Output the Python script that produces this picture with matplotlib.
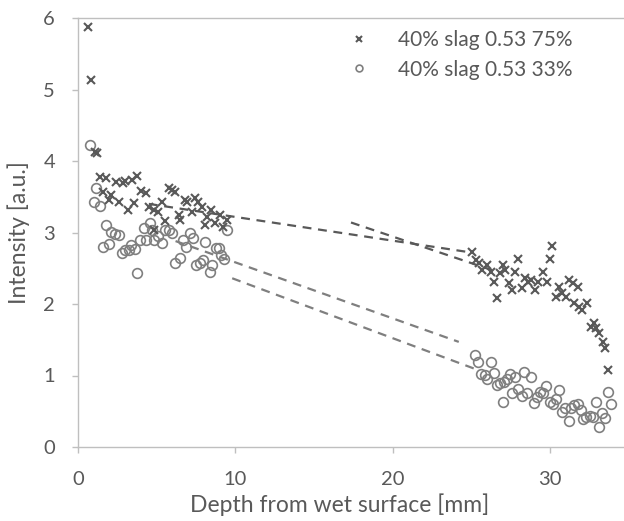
import matplotlib
matplotlib.use("Agg")
import matplotlib.pyplot as plt

plt.rcParams['font.family'] = ['Lato', 'DejaVu Sans']

# Series 1: 40% slag 0.53 75%  (x markers)
s1_x = [0.61, 0.81, 1.06, 1.21, 1.42, 1.75, 1.59, 2.11, 1.96, 2.42, 2.63, 2.84, 3.0, 3.15,
        3.46, 3.57, 3.78, 3.99, 4.3, 4.51, 4.82, 5.09, 5.34, 5.55, 4.82, 5.76, 5.97, 6.14,
        6.39, 6.49, 6.81, 6.91, 7.22, 7.43, 7.64, 7.85, 8.06, 8.22, 8.47, 8.68, 9.0, 9.2, 9.47,
        25.07, 25.28, 25.49, 25.69, 26.0, 26.22, 26.42, 26.63, 26.84, 27.0, 27.16, 27.36,
        27.57, 27.78, 27.99, 28.2, 28.41, 28.62, 28.82, 29.03, 29.24, 29.56, 29.81, 29.97,
        30.14, 30.39, 30.56, 30.77, 31.02, 31.18, 31.48, 31.75, 31.54, 31.85, 32.06, 32.37,
        32.58, 32.79, 32.94, 33.1, 33.35, 33.52, 33.69]
s1_y = [5.87, 5.13, 4.12, 4.11, 3.77, 3.76, 3.57, 3.52, 3.45, 3.71, 3.43, 3.69, 3.72, 3.31,
        3.74, 3.41, 3.79, 3.58, 3.55, 3.36, 3.32, 3.29, 3.43, 3.16, 3.03, 3.62, 3.6, 3.57,
        3.24, 3.17, 3.45, 3.43, 3.28, 3.48, 3.43, 3.35, 3.1, 3.21, 3.31, 3.13, 3.24, 3.08, 3.18,
        2.73, 2.61, 2.57, 2.48, 2.55, 2.45, 2.31, 2.08, 2.43, 2.55, 2.48, 2.29,
        2.2, 2.45, 2.63, 2.22, 2.36, 2.31, 2.34, 2.2, 2.31, 2.45, 2.31, 2.63,
        2.81, 2.1, 2.24, 2.15, 2.1, 2.34, 2.3, 2.24, 2.01, 1.96, 1.92, 2.01,
        1.68, 1.73, 1.66, 1.59, 1.47, 1.38, 1.08]

# Series 2: 40% slag 0.53 33%  (open circles)
s2_x = [0.79, 1.17, 1.0, 1.38, 1.75, 2.11, 2.32, 2.59, 1.59, 1.96, 2.8, 3.0, 3.21, 3.36,
        3.63, 3.78, 3.92, 4.2, 4.34, 4.55, 4.68, 4.82, 5.09, 5.34, 5.51, 5.76, 5.97, 6.14,
        6.49, 6.7, 6.85, 7.12, 7.33, 7.53, 7.74, 7.95, 8.1, 8.37, 8.52, 8.79, 8.93, 9.1, 9.27, 9.47,
        25.21, 25.42, 26.22, 25.63, 25.84, 26.0, 26.42, 26.63, 26.84, 27.05, 27.26, 27.43,
        27.0, 27.57, 27.78, 27.99, 28.2, 28.35, 28.55, 28.76, 28.97, 29.14, 29.35, 29.56,
        29.76, 29.97, 30.18, 30.35, 30.56, 30.77, 30.98, 31.18, 31.33, 31.54, 31.75, 31.96,
        32.1, 32.31, 32.52, 32.73, 32.9, 33.1, 33.31, 33.52, 33.69, 33.9]
s2_y = [4.22, 3.62, 3.43, 3.37, 3.1, 3.01, 2.98, 2.97, 2.8, 2.84, 2.72, 2.75, 2.75, 2.83,
        2.77, 2.44, 2.89, 3.06, 2.9, 3.13, 3.04, 2.9, 2.95, 2.86, 3.03, 3.03, 3.0, 2.57,
        2.64, 2.9, 2.8, 3.0, 2.92, 2.55, 2.57, 2.62, 2.87, 2.45, 2.55, 2.78, 2.79, 2.69, 2.63, 3.03,
        1.29, 1.19, 1.19, 1.02, 1.01, 0.95, 1.03, 0.87, 0.89, 0.91, 0.95, 1.02,
        0.63, 0.75, 0.98, 0.81, 0.71, 1.05, 0.75, 0.98, 0.61, 0.7, 0.77, 0.75,
        0.85, 0.63, 0.6, 0.67, 0.8, 0.49, 0.55, 0.37, 0.54, 0.59, 0.6, 0.52,
        0.39, 0.42, 0.43, 0.42, 0.63, 0.28, 0.47, 0.4, 0.77, 0.6]

# Dashed lines (trend-like segments)
lineA_x = [4.5, 25.0]
lineA_y = [3.40, 2.72]
lineB_x = [17.35, 26.5]
lineB_y = [3.14, 2.46]
lineC_x = [6.2, 24.2]
lineC_y = [2.88, 1.47]
lineD_x = [9.8, 25.5]
lineD_y = [2.36, 1.07]

labels = ["40% slag 0.53 75%", "40% slag 0.53 33%"]
xticks = [0, 10, 20, 30]
yticks = [0, 1, 2, 3, 4, 5, 6]

dark = '#595959'
mid = '#7f7f7f'
axc = '#bfbfbf'

fig = plt.figure(figsize=(6.24, 5.21), dpi=100)
ax = fig.add_axes([78/624, 74/521, 546/624, 429/521])

lw = 1.6
for lx, ly, c in [(lineA_x, lineA_y, dark), (lineB_x, lineB_y, dark),
                  (lineC_x, lineC_y, mid), (lineD_x, lineD_y, mid)]:
    ax.plot(lx, ly, color=c, lw=lw, dashes=(4, 3), zorder=1, solid_capstyle='butt')

h1, = ax.plot(s1_x, s1_y, linestyle='none', marker='x', markersize=5.8, mew=1.5,
              color=dark, label=labels[0], zorder=3)
h2, = ax.plot(s2_x, s2_y, linestyle='none', marker='o', markersize=7, mew=1.2,
              markerfacecolor='none', markeredgecolor=mid, label=labels[1], zorder=2)

ax.set_xlim(0, 34.7)
ax.set_ylim(0, 6)
ax.set_xticks(xticks)
ax.set_yticks(yticks)

for s in ['left', 'bottom', 'top']:
    ax.spines[s].set_color(axc)
    ax.spines[s].set_linewidth(1.0)
ax.spines['right'].set_visible(False)

ax.tick_params(axis='both', direction='out', length=4.5, width=1.0, color=axc,
               labelcolor=dark, labelsize=14.5)
ax.tick_params(axis='y', pad=12)
ax.tick_params(axis='x', pad=13)

ax.set_xlabel("Depth from wet surface [mm]", fontsize=16.5, color=dark)
ax.set_ylabel("Intensity [a.u.]", fontsize=16.5, color=dark)
ax.xaxis.set_label_coords(0.48, -0.108)
ax.yaxis.set_label_coords(-0.088, 0.5)

leg = fig.legend(handles=[h1, h2], loc='upper left', bbox_to_anchor=(338/624, 1 - 22/521),
                 frameon=False, fontsize=15, markerscale=0.7, handlelength=1.2,
                 handletextpad=1.3, labelspacing=0.45, borderaxespad=0)
for t in leg.get_texts():
    t.set_color(dark)

fig.savefig('out.png', dpi=100)
